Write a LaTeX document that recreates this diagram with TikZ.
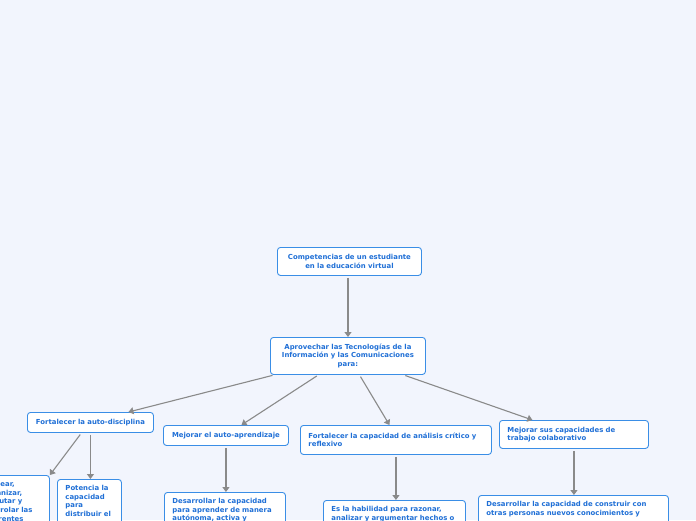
\documentclass[tikz,border=0pt]{standalone}
\usepackage{fontspec}
\setmainfont{DejaVu Sans}
\usetikzlibrary{arrows.meta,calc}
\definecolor{bg}{HTML}{F2F5FD}
\definecolor{bord}{HTML}{3A8EE6}
\definecolor{txt}{HTML}{1F6FD6}
\definecolor{arrc}{HTML}{8A8A8A}
\newcommand{\fnt}{\fontsize{6.9}{8.6}\selectfont\bfseries}
\tikzset{
  box/.style={draw=bord, fill=white, rounded corners=3pt, line width=0.9pt,
    font=\fnt, text=txt, inner xsep=8pt, inner ysep=0pt, anchor=north west},
  cbox/.style={box, align=center},
  lbox/.style={box, align=left},
  arr/.style={draw=arrc, line width=1.1pt, -{Triangle[length=5pt,width=7pt]}, shorten <=2pt}
}
\begin{document}
\begin{tikzpicture}[x=1pt,y=-1pt]
\fill[bg] (0,0) rectangle (696,520);
\useasboundingbox (0,0) rectangle (696,520);
\clip (0,0) rectangle (696,520);
\node[cbox, text width=128pt, minimum height=28pt] (root) at (277,247) {Competencias de un estudiante\\en la educación virtual};
\node[cbox, text width=139pt, minimum height=37pt] (aprov) at (270,337) {Aprovechar las Tecnologías de la\\Información y las Comunicaciones\\para:};
\node[cbox, text width=110pt, minimum height=20pt] (fort) at (27,412) {Fortalecer la auto-disciplina};
\node[cbox, text width=109pt, minimum height=20pt] (mejor) at (163,425) {Mejorar el auto-aprendizaje};
\node[lbox, text width=175pt, minimum height=29pt] (anal) at (300,425) {Fortalecer la capacidad de análisis crítico y\\reflexivo};
\node[lbox, text width=133pt, minimum height=28pt] (colab) at (499,420) {Mejorar sus capacidades de\\trabajo colaborativo};
\node[lbox, text width=58pt, inner ysep=6pt, text depth=60pt] (plan) at (-25,475) {Planear,\\organizar,\\ejecutar y\\controlar las\\diferentes};
\node[lbox, text width=48pt, inner ysep=6pt, text depth=60pt] (pot) at (57,479) {Potencia la\\capacidad\\para\\distribuir el};
\node[lbox, text width=105pt, inner ysep=6pt, text depth=60pt] (desa) at (164,492) {Desarrollar la capacidad\\para aprender de manera\\autónoma, activa y};
\node[lbox, text width=126pt, inner ysep=6pt, text depth=60pt] (razon) at (323,500) {Es la habilidad para razonar,\\analizar y argumentar hechos o};
\node[lbox, text width=174pt, inner ysep=6pt, text depth=60pt] (const) at (478,495) {Desarrollar la capacidad de construir con\\otras personas nuevos conocimientos y};
\draw[arr] (root.south -| 348,0) -- (348,0 |- aprov.north);
\draw[arr] ($(aprov.south)+(-73.5,0)$) -- ($(fort.north)+(38,0)$);
\draw[arr] ($(aprov.south)+(-29.5,0)$) -- ($(mejor.north)+(15.5,0)$);
\draw[arr] ($(aprov.south)+(11.5,0)$) -- ($(anal.north)+(-6.5,0)$);
\draw[arr] ($(aprov.south)+(55.5,0)$) -- ($(colab.north)+(-41.5,0)$);
\draw[arr] ($(fort.south)+(-9,0)$) -- (plan.north east);
\draw[arr] (fort.south) -- (fort.south |- pot.north);
\draw[arr] (mejor.south) -- (mejor.south |- desa.north);
\draw[arr] (anal.south) -- (anal.south |- razon.north);
\draw[arr] (colab.south) -- (colab.south |- const.north);
\end{tikzpicture}
\end{document}
